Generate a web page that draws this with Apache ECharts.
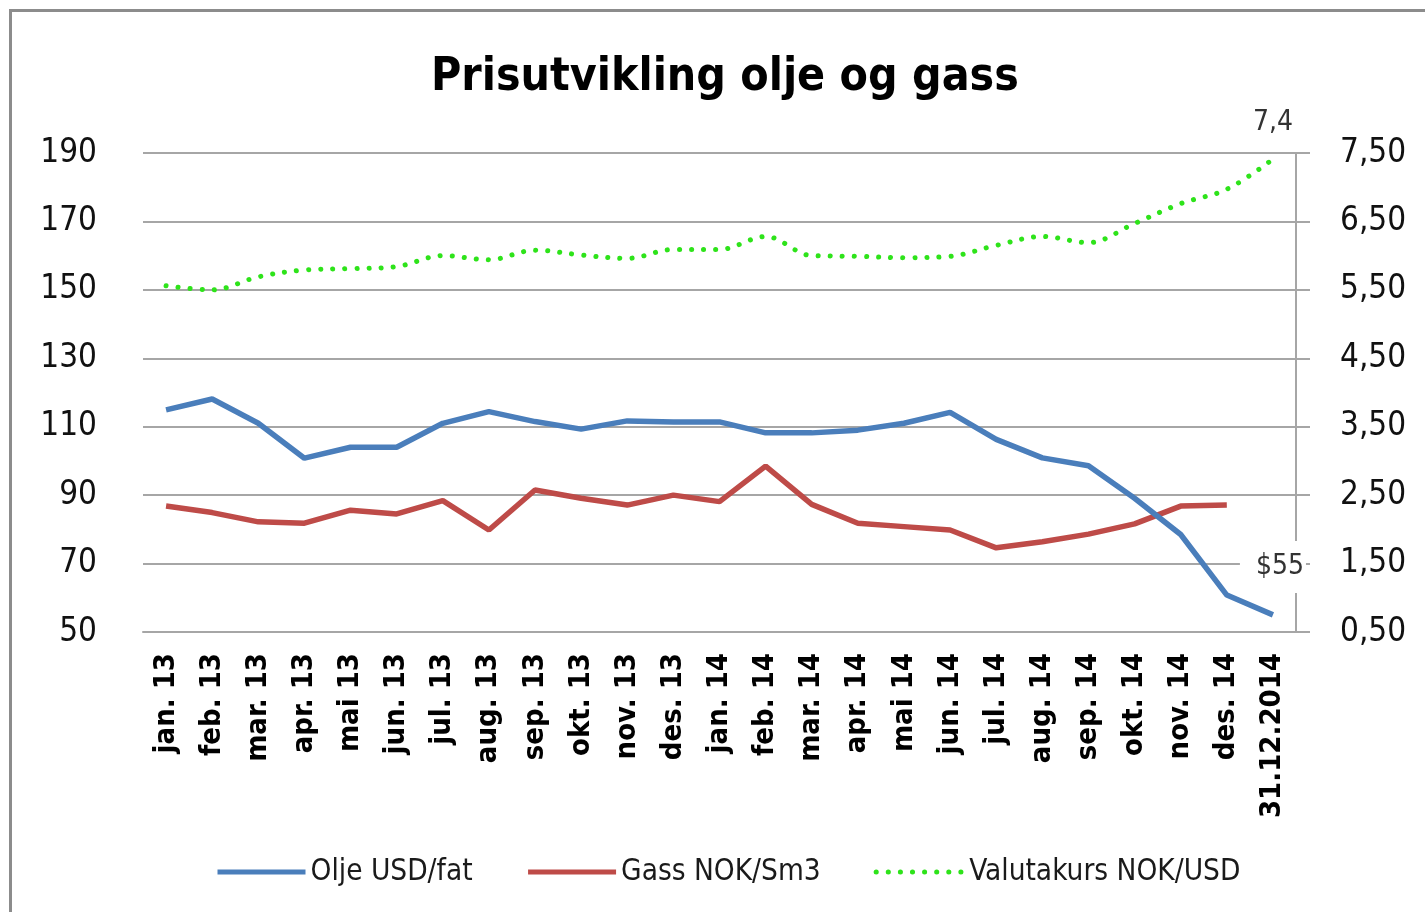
<!DOCTYPE html>
<html>
<head>
<meta charset="utf-8">
<script src="https://cdn.jsdelivr.net/npm/echarts@6/dist/echarts.min.js"></script>
<style>
html,body{margin:0;padding:0;background:#fff;}
#frame{position:absolute;left:9px;top:9px;width:1420px;height:910px;border-left:3px solid #8c8c8c;border-top:3px solid #8c8c8c;}
#chart{position:absolute;left:0;top:0;width:1425px;height:912px;}
</style>
</head>
<body>
<div id="frame"></div>
<div id="chart"></div>
<script>
const categories = ['jan. 13','feb. 13','mar. 13','apr. 13','mai 13','jun. 13','jul. 13','aug. 13','sep. 13','okt. 13','nov. 13','des. 13',
  'jan. 14','feb. 14','mar. 14','apr. 14','mai 14','jun. 14','jul. 14','aug. 14','sep. 14','okt. 14','nov. 14','des. 14','31.12.2014'];
const oljeUSD = [114.9,118.1,111.0,100.8,104.0,104.0,111.0,114.4,111.5,109.3,111.7,111.4,111.4,108.2,108.2,109.0,111.0,114.2,106.3,100.9,98.6,89.1,78.5,60.8,55.0];
const gassNOK = [86.8,84.9,82.2,81.8,85.6,84.5,88.4,79.8,91.5,89.1,87.1,90.0,88.1,98.5,87.3,81.8,80.8,79.8,74.6,76.4,78.6,81.6,86.8,87.1,null];
const valutakurs = [5.56,5.50,5.69,5.79,5.81,5.84,6.00,5.94,6.08,6.01,5.96,6.09,6.09,6.28,6.00,5.99,5.97,5.99,6.15,6.28,6.19,6.47,6.76,6.97,7.41];
const seriesNames = ['Olje USD/fat','Gass NOK/Sm3','Valutakurs NOK/USD'];
const titleText = 'Prisutvikling olje og gass';

const FONT = '"DejaVu Sans Condensed", "DejaVu Sans", sans-serif';
const last = categories.length - 1;
const chart = echarts.init(document.getElementById('chart'));
chart.setOption({
  animation: false,
  title: {
    text: titleText, left: 426, top: 50,
    textStyle: {fontFamily: FONT, fontWeight: 'bold', fontSize: 46, color: '#000'}
  },
  legend: {
    data: seriesNames, left: 210, top: 852, itemWidth: 88, itemHeight: 20, itemGap: 53,
    itemStyle: {opacity: 0},
    lineStyle: {width: 5},
    textStyle: {fontFamily: FONT, fontSize: 29.5, color: '#1a1a1a'}
  },
  grid: {left: 143, right: 129, top: 153, bottom: 280, containLabel: false},
  xAxis: {
    type: 'category', data: categories, boundaryGap: true,
    axisLine: {lineStyle: {color: '#a6a6a6', width: 2}},
    axisTick: {alignWithLabel: true, length: 8, lineStyle: {color: '#a6a6a6', width: 2}},
    axisLabel: {rotate: 90, interval: 0, margin: 21, fontFamily: FONT, fontWeight: 'bold', fontSize: 29, color: '#000'}
  },
  yAxis: [
    {
      type: 'value', min: 50, max: 190, interval: 20,
      axisLine: {show: false}, axisTick: {show: false},
      splitLine: {lineStyle: {color: '#a6a6a6', width: 2}},
      axisLabel: {margin: 46, fontFamily: FONT, fontSize: 33, color: '#111'}
    },
    {
      type: 'value', min: 0.5, max: 7.5, interval: 1, position: 'right',
      axisLine: {show: true, lineStyle: {color: '#a6a6a6', width: 2}},
      axisTick: {show: true, length: 14, lineStyle: {color: '#a6a6a6', width: 2}},
      splitLine: {show: false},
      axisLabel: {margin: 44, fontFamily: FONT, fontSize: 33, color: '#111',
        formatter: v => v.toFixed(2).replace('.', ',')}
    }
  ],
  series: [
    {
      name: seriesNames[0], type: 'line', yAxisIndex: 0, data: oljeUSD, symbol: 'none',
      lineStyle: {color: '#4a7ebb', width: 5.5}, itemStyle: {color: '#4a7ebb'}, z: 4,
      markPoint: {
        symbol: 'circle', symbolSize: 0, silent: true,
        data: [{coord: [last, oljeUSD[last]], value: oljeUSD[last]}],
        label: {show: true, position: 'top', distance: 22, formatter: p => '$' + Math.round(p.value),
          fontFamily: FONT, fontSize: 28, color: '#333', backgroundColor: '#fff', padding: [12, 2, 12, 16]}
      }
    },
    {
      name: seriesNames[1], type: 'line', yAxisIndex: 0, data: gassNOK, symbol: 'none',
      lineStyle: {color: '#be4b48', width: 5.5}, itemStyle: {color: '#be4b48'}, z: 3
    },
    {
      name: seriesNames[2], type: 'line', yAxisIndex: 1, data: valutakurs, symbol: 'none', smooth: 0.35,
      lineStyle: {color: '#2ee31a', width: 5, type: [0.1, 12], cap: 'round'}, itemStyle: {color: '#2ee31a'}, z: 2,
      markPoint: {
        symbol: 'circle', symbolSize: 0, silent: true,
        data: [{coord: [last, valutakurs[last]], value: valutakurs[last]}],
        label: {show: true, position: 'top', distance: 10, formatter: p => p.value.toFixed(1).replace('.', ','),
          fontFamily: FONT, fontSize: 28, color: '#333', backgroundColor: '#fff', padding: [4, 2, 12, 2]}
      }
    }
  ]
});
</script>
</body>
</html>
